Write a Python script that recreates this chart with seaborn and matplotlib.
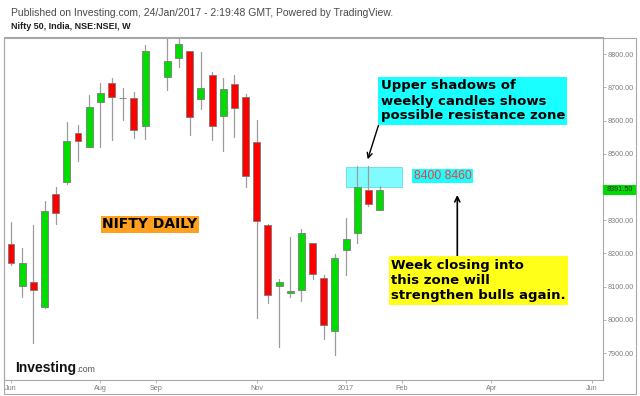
import numpy as np
import pandas as pd
import matplotlib
matplotlib.use("Agg")
import matplotlib.pyplot as plt
from matplotlib.patches import Rectangle
from matplotlib.transforms import blended_transform_factory
import seaborn as sns

# ---------------- data (weekly candles, Nifty 50) ----------------
START_WEEK = "2016-06-06"
OPENS = [8228, 8102, 8115, 8038, 8378, 8414, 8564, 8520, 8655, 8713, 8668, 8667,
         8583, 8870, 8732, 8789, 8809, 8665, 8737, 8613, 8711, 8671, 8536, 8285,
         8101, 8081, 8089, 8230, 8126, 7965, 8210, 8260, 8391, 8332]
HIGHS = [8295, 8215, 8287, 8357, 8400, 8596, 8586, 8677, 8714, 8729, 8697, 8687,
         8827, 8960, 8870, 8855, 8810, 8807, 8747, 8729, 8737, 8679, 8601, 8290,
         8123, 8250, 8275, 8232, 8135, 8198, 8307, 8462, 8462, 8404]
LOWS = [8165, 8068, 7929, 8035, 8288, 8409, 8478, 8519, 8520, 8541, 8601, 8548,
        8546, 8856, 8692, 8760, 8556, 8635, 8541, 8508, 8551, 8400, 8004, 8050,
        7917, 8068, 8057, 8123, 7943, 7894, 8135, 8230, 8343, 8330]
CLOSES = [8170, 8170, 8089, 8328, 8323, 8540, 8540, 8640, 8684, 8671, 8667, 8573,
          8810, 8900, 8780, 8830, 8611, 8698, 8583, 8694, 8637, 8434, 8297, 8075,
          8115, 8087, 8262, 8139, 7985, 8186, 8244, 8399, 8349, 8391.5]

TICK_DATES = ["2016-06-06", "2016-08-01", "2016-09-05", "2016-11-07",
              "2017-01-02", "2017-02-06", "2017-04-03", "2017-06-05"]
TICK_LABELS = ["Jun", "Aug", "Sep", "Nov", "2017", "Feb", "Apr", "Jun"]
Y_TICKS = [7900, 8000, 8100, 8200, 8300, 8400, 8500, 8600, 8700, 8800]

ZONE_DATES = ("2017-01-02", "2017-02-06")
ZONE_LOW, ZONE_HIGH = 8400, 8460

HEADER = "Published on Investing.com, 24/Jan/2017 - 2:19:48 GMT, Powered by TradingView."
TITLE = "Nifty 50, India, NSE:NSEI, W"
NOTE_LABEL = "NIFTY DAILY"
NOTE_SHADOWS = "Upper shadows of\nweekly candles shows\npossible resistance zone"
NOTE_ZONE = "8400 8460"
NOTE_CLOSE = "Week closing into\nthis zone will\nstrengthen bulls again."

# ---------------- frame ----------------
start = pd.Timestamp(START_WEEK)
def week_index(d):
    return (pd.Timestamp(d) - start).days / 7.0

df = pd.DataFrame({
    "week": pd.date_range(START_WEEK, periods=len(OPENS), freq="W-MON"),
    "open": OPENS, "high": HIGHS, "low": LOWS, "close": CLOSES,
})
df["idx"] = [week_index(d) for d in df["week"]]
df["up"] = df["close"] >= df["open"]

wicks = pd.concat([
    df[["idx"]].assign(price=df["low"]),
    df[["idx"]].assign(price=df["high"]),
]).sort_values("idx", kind="stable").reset_index(drop=True)

sns.set_theme(style="white")
plt.rcParams["font.family"] = ["Liberation Sans", "DejaVu Sans"]

W, H = 640, 396
def fx(px):
    return px / W
def fy(py):
    return 1 - py / H

GREEN = "#00dc00"
RED = "#ff0000"
GRID = "#a8a8a8"

fig = plt.figure(figsize=(6.4, 3.96), dpi=100)
fig.patch.set_facecolor("white")
ax = fig.add_axes([fx(4), fy(380), (603 - 4) / W, (380 - 37.5) / H])
ax.set_facecolor("white")

# zone
z0, z1 = week_index(ZONE_DATES[0]), week_index(ZONE_DATES[1])
ax.add_patch(Rectangle((z0, ZONE_LOW), z1 - z0, ZONE_HIGH - ZONE_LOW,
                       facecolor="#80fcff", edgecolor="#66dde8", lw=0.6, zorder=1))

# wicks
sns.lineplot(data=wicks, x="idx", y="price", units="idx", estimator=None,
             sort=False, color="#9c9c9c", lw=0.9, ax=ax, zorder=2, legend=False)

# bodies
colors = np.where(df["up"], GREEN, RED)
ax.bar(df["idx"], df["close"] - df["open"], bottom=df["open"], width=0.62,
       color=colors, edgecolor="#7a7a7a", linewidth=0.6, zorder=3)

ax.set_xlim(-0.627, 53.0)
ax.set_ylim(7818.7, 8850.3)
ax.set_xlabel("")
ax.set_ylabel("")

last = CLOSES[-1]
ax.set_xticks([week_index(d) for d in TICK_DATES])
ax.set_xticklabels(TICK_LABELS)
ax.yaxis.tick_right()
ax.set_yticks(Y_TICKS)
# the label nearest the last price is covered by the price tag
ax.set_yticklabels(["" if abs(v - last) < 40 else f"{v:.2f}" for v in Y_TICKS])
ax.tick_params(axis="both", which="both", direction="out", length=2, width=0.6,
               color=GRID, labelcolor="#7d7d7d", labelsize=5.2)
ax.tick_params(axis="x", pad=1.8, bottom=True)
ax.tick_params(axis="y", pad=1.4, right=True, left=False)
for s in ax.spines.values():
    s.set_color(GRID)
    s.set_linewidth(0.8)

# outer frame
fig.patches.append(Rectangle((fx(4), fy(394)), (636 - 4) / W, (394 - 37.5) / H,
                             transform=fig.transFigure, facecolor="none",
                             edgecolor=GRID, lw=0.8, zorder=0))

# current price tag
tr = blended_transform_factory(fig.transFigure, ax.transData)
ax.add_patch(Rectangle((fx(603), last - 16), (636 - 603) / W, 32, transform=tr,
                       facecolor=GREEN, edgecolor="none", clip_on=False, zorder=5))
ax.text(fx(619.5), last, f"{last:.2f}", transform=tr, ha="center", va="center",
        fontsize=5.2, color="#2a2a2a", zorder=6, clip_on=False)

# header
fig.text(fx(11), fy(16), HEADER, fontsize=7.5, color="#4a4a4a", va="baseline")
fig.text(fx(11), fy(28.7), TITLE, fontsize=6.5, weight="bold", color="#1e1e1e",
         va="baseline")

# investing logo
fig.text(fx(15), fy(372), "Investing", fontsize=10, weight="bold", color="#111111",
         va="baseline")
fig.text(fx(76.5), fy(372), ".com", fontsize=6.3, color="#555555", va="baseline")

# annotations
bold = dict(family=["DejaVu Sans"], weight="bold", color="black")
fig.text(fx(150), fy(224.5), NOTE_LABEL, fontsize=10, ha="center", va="center",
         bbox=dict(boxstyle="square,pad=0.12", fc="#ffa01e", ec="none"), **bold)
fig.text(fx(380.7), fy(79.5), NOTE_SHADOWS, fontsize=9.5, ha="left", va="top",
         linespacing=1.2,
         bbox=dict(boxstyle="square,pad=0.17", fc="#19ffff", ec="none"), **bold)
fig.text(fx(391), fy(258.5), NOTE_CLOSE, fontsize=9.5, ha="left", va="top",
         linespacing=1.25,
         bbox=dict(boxstyle="square,pad=0.17", fc="#ffff1a", ec="none"), **bold)
fig.text(fx(442.5), fy(176), NOTE_ZONE, fontsize=8.8, ha="center", va="center",
         color="#ff3a3a", family=["Liberation Sans"],
         bbox=dict(boxstyle="square,pad=0.12", fc="#19ffff", ec="none"))

ax.annotate("", xy=(367.7, H - 159.3), xycoords="figure pixels",
            xytext=(379.3, H - 122.7), textcoords="figure pixels",
            arrowprops=dict(arrowstyle="->", color="black", lw=1.0,
                            mutation_scale=9, shrinkA=0, shrinkB=0))
ax.annotate("", xy=(457.3, H - 195), xycoords="figure pixels",
            xytext=(457.3, H - 257), textcoords="figure pixels",
            arrowprops=dict(arrowstyle="->", color="black", lw=1.2,
                            mutation_scale=9, shrinkA=0, shrinkB=0))

fig.savefig("out.png", dpi=100, facecolor="white")
